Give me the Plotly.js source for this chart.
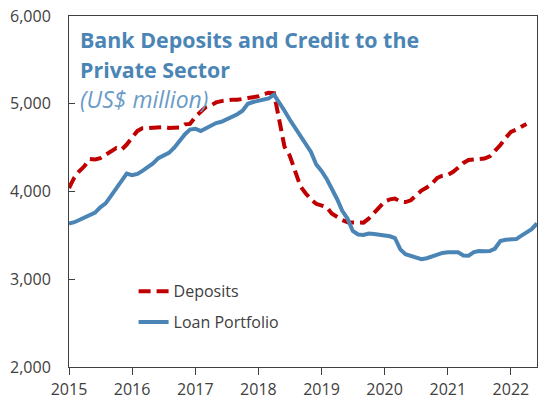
<!DOCTYPE html>
<html>
<head>
<meta charset="utf-8">
<script src="https://cdn.plot.ly/plotly-3.0.1.min.js"></script>
<style>html,body{margin:0;padding:0;background:#fff;}#chart{width:550px;height:401px;}</style>
</head>
<body>
<div id="chart"></div>
<script>
var months = [
 "2015-01","2015-02","2015-03","2015-04","2015-05","2015-06","2015-07","2015-08","2015-09","2015-10","2015-11","2015-12",
 "2016-01","2016-02","2016-03","2016-04","2016-05","2016-06","2016-07","2016-08","2016-09","2016-10","2016-11","2016-12",
 "2017-01","2017-02","2017-03","2017-04","2017-05","2017-06","2017-07","2017-08","2017-09","2017-10","2017-11","2017-12",
 "2018-01","2018-02","2018-03","2018-04","2018-05","2018-06","2018-07","2018-08","2018-09","2018-10","2018-11","2018-12",
 "2019-01","2019-02","2019-03","2019-04","2019-05","2019-06","2019-07","2019-08","2019-09","2019-10","2019-11","2019-12",
 "2020-01","2020-02","2020-03","2020-04","2020-05","2020-06","2020-07","2020-08","2020-09","2020-10","2020-11","2020-12",
 "2021-01","2021-02","2021-03","2021-04","2021-05","2021-06","2021-07","2021-08","2021-09","2021-10","2021-11","2021-12",
 "2022-01","2022-02","2022-03","2022-04","2022-05","2022-06"
];

var deposits = [
 4040,4160,4230,4290,4370,4365,4380,4420,4470,4495,4477,4535,
 4615,4690,4720,4725,4725,4740,4735,4725,4725,4730,4765,4770,
 4850,4910,4960,4980,5015,5030,5040,5045,5045,5050,5065,5075,
 5085,5110,5125,5120,4800,4510,4410,4240,4060,3980,3910,3860,
 3840,3820,3750,3710,3675,3650,3645,3645,3645,3690,3760,3830,
 3885,3910,3920,3885,3880,3900,3960,4010,4045,4090,4155,4180,
 4190,4225,4270,4325,4360,4365,4365,4375,4400,4460,4530,4610,
 4680,4705,4740,4770
];

var loans = [
 3636,3650,3675,3700,3730,3760,3820,3865,3950,4040,4130,4205,
 4185,4200,4235,4275,4320,4380,4405,4440,4500,4580,4650,4705,
 4715,4690,4720,4745,4780,4795,4820,4850,4880,4920,5000,5020,
 5030,5040,5060,5105,5020,4920,4820,4730,4640,4545,4450,4310,
 4235,4140,4040,3915,3780,3690,3550,3510,3505,3520,3515,3510,
 3505,3490,3470,3340,3285,3265,3250,3228,3240,3262,3285,3300,
 3308,3305,3308,3270,3268,3310,3322,3320,3322,3350,3435,3450,
 3455,3458,3495,3530,3570,3636
];

var seriesNames = ["Deposits", "Loan Portfolio"];
var yTicks = [2000, 3000, 4000, 5000, 6000];
var yTickText = ["2,000", "3,000", "4,000", "5,000", "6,000"];
var xTicks = ["2015-01-01","2016-01-01","2017-01-01","2018-01-01","2019-01-01","2020-01-01","2021-01-01","2022-01-01"];
var xTickText = ["2015","2016","2017","2018","2019","2020","2021","2022"];

var traces = [
 {x: months.slice(0, deposits.length), y: deposits, name: seriesNames[0], legendgroup: "a", type: "scatter", mode: "lines",
  line: {color: "#c00000", width: 4, dash: "12px,6px"}},
 {x: months.slice(0, loans.length), y: loans, name: seriesNames[1], legendgroup: "b", type: "scatter", mode: "lines",
  line: {color: "#4a85b5", width: 4}}
];

var layout = {
 width: 550, height: 401,
 margin: {l: 69, r: 13, t: 16, b: 34},
 paper_bgcolor: "#ffffff", plot_bgcolor: "#ffffff",
 font: {family: "Open Sans, sans-serif", size: 16, color: "#404040"},
 showlegend: true,
 legend: {x: 0.138, y: 0.264, xanchor: "left", yanchor: "top", bgcolor: "rgba(0,0,0,0)",
   font: {size: 16, color: "#404040"}, traceorder: "grouped", tracegroupgap: 7, itemwidth: 30},
 xaxis: {type: "date", range: ["2015-01-01", "2022-06-01"], tickvals: xTicks, ticktext: xTickText,
   ticks: "outside", ticklen: 7, tickcolor: "#404040", showline: true, linecolor: "#404040", linewidth: 1,
   mirror: true, showgrid: false, zeroline: false, tickfont: {size: 16, color: "#404040"}, ticklabelstandoff: 1},
 yaxis: {range: [2000, 6000], tickvals: yTicks, ticktext: yTickText,
   ticks: "inside", ticklen: 6, tickcolor: "#404040", showline: true, linecolor: "#404040", linewidth: 1,
   mirror: true, showgrid: false, zeroline: false, tickfont: {size: 16, color: "#404040"}, ticklabelstandoff: 14},
 annotations: [
  {xref: "paper", yref: "paper", x: 0.02, y: 0.934, xanchor: "left", yanchor: "middle", showarrow: false, align: "left",
   text: "<b>Bank Deposits and Credit to the</b>",
   font: {family: "Open Sans, sans-serif", size: 21.4, color: "#4a85b5"}},
  {xref: "paper", yref: "paper", x: 0.02, y: 0.849, xanchor: "left", yanchor: "middle", showarrow: false, align: "left",
   text: "<b>Private Sector</b>",
   font: {family: "Open Sans, sans-serif", size: 21.4, color: "#4a85b5"}},
  {xref: "paper", yref: "paper", x: 0.02, y: 0.764, xanchor: "left", yanchor: "middle", showarrow: false, align: "left",
   text: "<i>(US$ million)</i>",
   font: {family: "Open Sans, sans-serif", size: 23, color: "#6a9bc8"}}
 ]
};

Plotly.newPlot("chart", traces, layout, {displayModeBar: false, staticPlot: true});
</script>
</body>
</html>
